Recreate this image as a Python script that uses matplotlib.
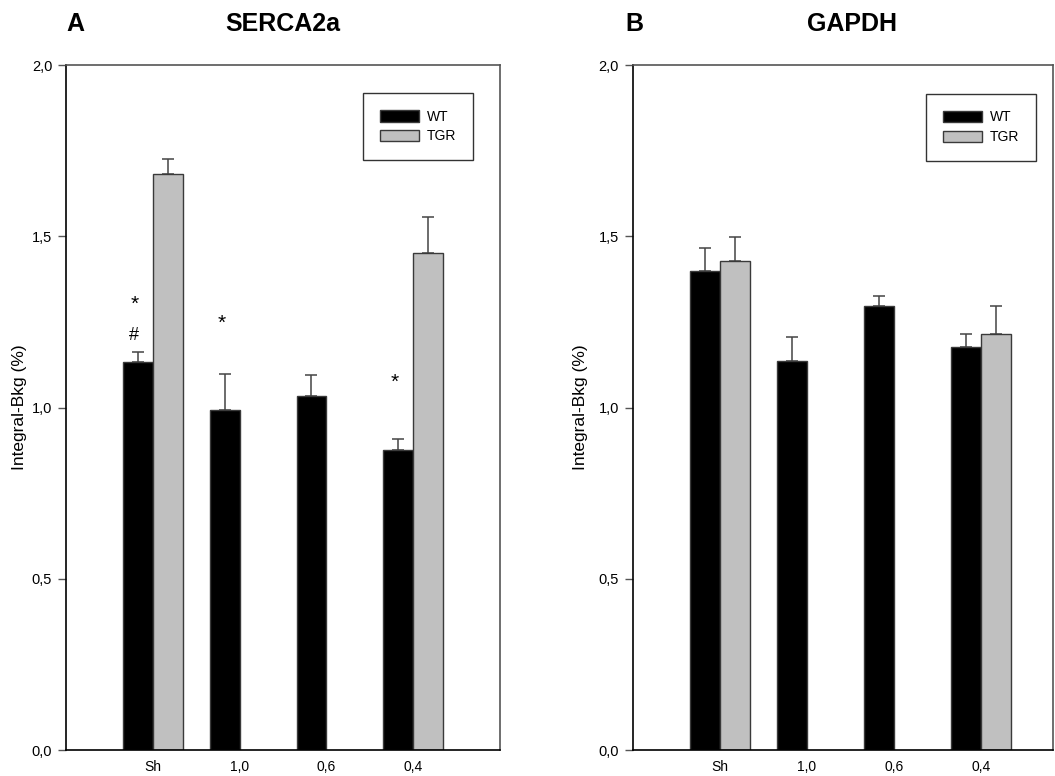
import numpy as np
import matplotlib
matplotlib.use("Agg")
import matplotlib.pyplot as plt
from matplotlib.patches import Patch

plt.rcParams['font.family'] = ['Liberation Sans', 'DejaVu Sans']

# ==================== data ===================
groups = ['Sh', '1,0', '0,6', '0,4']
ytick_vals = [0.0, 0.5, 1.0, 1.5, 2.0]
ytick_labels = ['0,0', '0,5', '1,0', '1,5', '2,0']

# SERCA2a (panel A), NaN = no bar
serca_wt = [1.133, 0.993, 1.035, 0.876]
serca_wt_err = [0.029, 0.106, 0.060, 0.033]
serca_tgr = [1.682, np.nan, np.nan, 1.452]
serca_tgr_err = [0.044, np.nan, np.nan, 0.104]

# significance marks: (group index, y, symbol)
serca_marks = [(0, 1.30, '*'), (0, 1.21, '#'), (1, 1.245, '*'), (3, 1.075, '*')]

# GAPDH (panel B)
gapdh_wt = [1.398, 1.137, 1.297, 1.178]
gapdh_wt_err = [0.069, 0.070, 0.029, 0.037]
gapdh_tgr = [1.427, np.nan, np.nan, 1.215]
gapdh_tgr_err = [0.070, np.nan, np.nan, 0.081]

# ==================== style ===================
W = 0.345
C_WT = 'black'
C_TGR = '#c0c0c0'
EDGE = '#3a3a3a'
ERR = '#444444'


def draw_panel(ax, wt, wt_err, tgr, tgr_err, xmax):
    x = np.arange(len(groups))
    wt = np.array(wt)
    tgr = np.array(tgr)
    ax.bar(x - W / 2, wt, W, color=C_WT, edgecolor=EDGE, lw=1, zorder=2)
    ok = ~np.isnan(tgr)
    ax.bar(x[ok] + W / 2, tgr[ok], W, color=C_TGR, edgecolor=EDGE, lw=1, zorder=2)
    ax.errorbar(x - W / 2, wt, yerr=[np.zeros(len(wt)), wt_err], fmt='none',
                ecolor=ERR, elinewidth=1.1, capsize=4, capthick=1.1, zorder=1)
    ax.errorbar(x[ok] + W / 2, tgr[ok],
                yerr=[np.zeros(ok.sum()), np.array(tgr_err)[ok]], fmt='none',
                ecolor=ERR, elinewidth=1.1, capsize=4, capthick=1.1, zorder=1)

    ax.set_xlim(-1, xmax)
    ax.set_ylim(0, 2.0)
    ax.set_xticks(x)
    ax.set_xticklabels(groups, fontsize=10)
    ax.tick_params(axis='x', length=0, pad=7)
    ax.set_yticks(ytick_vals)
    ax.set_yticklabels(ytick_labels, fontsize=10.5)
    ax.tick_params(axis='y', length=6, width=1, color='#555555', pad=4)
    ax.set_ylabel('Integral-Bkg (%)', fontsize=12.5)
    for s in ['left', 'bottom']:
        ax.spines[s].set_color('black')
        ax.spines[s].set_linewidth(1.2)
    for s in ['top', 'right']:
        ax.spines[s].set_color('#555555')
        ax.spines[s].set_linewidth(1.2)

    handles = [Patch(facecolor=C_WT, edgecolor=EDGE, label='WT'),
               Patch(facecolor=C_TGR, edgecolor=EDGE, label='TGR')]
    return handles


fig = plt.figure(figsize=(10.55, 7.76), dpi=100)

ax1 = fig.add_axes([0.0626, 0.0335, 0.4114, 0.8827])
h = draw_panel(ax1, serca_wt, serca_wt_err, serca_tgr, serca_tgr_err, 4.0)
ax1.yaxis.set_label_coords(-39 / 434, 0.5)
for gi, yv, sym in serca_marks:
    ax1.text(gi - W / 2 - 0.04, yv, sym, ha='center', va='center',
             fontsize=15 if sym == '*' else 13)
leg1 = ax1.legend(handles=h, loc='upper right', bbox_to_anchor=(0.938, 0.959),
                  borderaxespad=0, fancybox=False, edgecolor='black',
                  fontsize=10, handlelength=2.8, handleheight=0.85,
                  borderpad=1.2, labelspacing=0.4, handletextpad=0.6)
leg1.get_frame().set_linewidth(1)

ax2 = fig.add_axes([0.6, 0.0335, 0.398, 0.8827])
h = draw_panel(ax2, gapdh_wt, gapdh_wt_err, gapdh_tgr, gapdh_tgr_err, 3.83)
ax2.yaxis.set_label_coords(-45 / 420, 0.5)
leg2 = ax2.legend(handles=h, loc='upper right', bbox_to_anchor=(0.96, 0.958),
                  borderaxespad=0, fancybox=False, edgecolor='black',
                  fontsize=10, handlelength=2.8, handleheight=0.85,
                  borderpad=1.2, labelspacing=0.4, handletextpad=0.6)
leg2.get_frame().set_linewidth(1)

fig.text(66 / 1055, 0.969, 'A', fontsize=18, fontweight='bold', ha='left', va='center')
fig.text(283 / 1055, 0.969, 'SERCA2a', fontsize=18, fontweight='bold', ha='center', va='center')
fig.text(625 / 1055, 0.969, 'B', fontsize=18, fontweight='bold', ha='left', va='center')
fig.text(852 / 1055, 0.969, 'GAPDH', fontsize=18, fontweight='bold', ha='center', va='center')

fig.savefig('out.png', dpi=100)
